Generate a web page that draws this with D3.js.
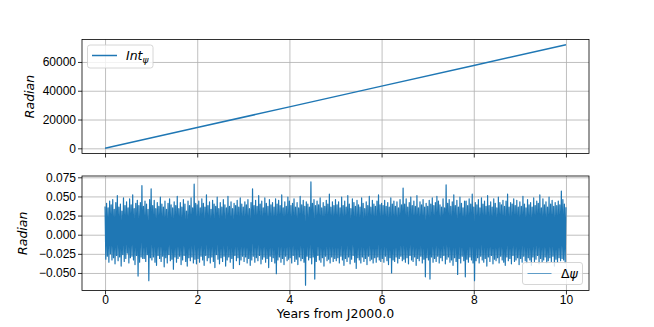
<!DOCTYPE html>
<html lang="en">
<head>
<meta charset="UTF-8">
<title>Nutation in longitude</title>
<style type="text/css">
    body { margin: 0; background: #fff; }
    svg { font-family: "DejaVu Sans", sans-serif; }

    /* grid under the data, like matplotlib */
    .grid line { stroke: #b0b0b0; stroke-width: 0.8; }
    .grid .domain { display: none; }

    .axis text { font-size: 12px; fill: #000; }
    .axis line { stroke: #000; stroke-width: 0.8; }
    .axis .domain { display: none; }

    .frame { fill: none; stroke: #000; stroke-width: 0.8; }

    .line { fill: none; stroke: #1f77b4; stroke-linejoin: round; }
    .line.int { stroke-width: 1.5; }
    .line.dpsi { stroke-width: 1.2; }

    .legend rect { fill: #fff; fill-opacity: 0.8; stroke: #cccccc; stroke-width: 0.8; }
    .legend text { font-size: 12.5px; fill: #000; }
    .label { font-size: 12.5px; fill: #000; }
</style>
</head>
<body>
<script src="https://d3js.org/d3.v7.min.js"></script>
<script>

    // top panel: accumulated nutation in longitude (rad)
    var intYears = [0, 2, 4, 6, 8, 10];
    var intPsi = [0, 14400, 28800, 43200, 57600, 72000];

    // bottom panel: nutation in longitude, milliradians, 60 samples per year
    var dPsiMilli = [
        37,-32,41,-28,35,-36,44,-25,39,-33, 46,-30,33,-38,42,-27,51,-34,36,-29,
        40,-41,31,-26,48,-35,38,-31,43,-24, 35,-37,47,-30,39,-28,52,-33,34,-39,
        41,-27,45,-54,38,-36,42,-29,64,-31, 37,-31,44,-35,40,-26,33,-60,46,-30,

        60,-33,38,-29,45,-36,34,-40,42,-27, 37,-31,49,-35,40,-28,36,-42,44,-30,
        33,-37,41,-26,47,-34,39,-32,35,-45, 43,-29,38,-36,50,-31,34,-28,42,-39,
        36,-33,46,-27,40,-35,31,-41,44,-30, 38,-34,48,-29,35,-37,66,-32,41,-38,

        39,-31,44,-36,35,-28,47,-33,41,-40, 36,-27,52,-34,38,-30,43,-37,33,-29,
        45,-35,40,-43,37,-26,49,-32,34,-38, 42,-30,36,-35,46,-28,39,-41,35,-33,
        50,-29,37,-36,43,-31,34,-44,41,-27, 38,-34,45,-30,36,-39,48,-33,40,-28,

        36,-35,43,-29,39,-37,46,-31,34,-40, 42,-33,60,-28,38,-36,45,-30,37,-34,
        51,-27,40,-38,44,-32,35,-29,48,-36, 41,-31,37,-43,46,-28,39,-35,42,-30,
        36,-37,47,-51,40,-33,45,-29,38,-36, 52,-31,35,-39,43,-28,37,-34,49,-32,

        44,-30,38,-37,41,-27,47,-35,36,-32, 42,-39,35,-29,50,-34,39,-31,45,-36,
        37,-66,43,-28,40,-33,36,-30,69,-38, 41,-29,46,-58,38,-35,44,-27,39,-33,
        48,-36,35,-30,42,-41,37,-28,45,-34, 40,-32,53,-37,36,-29,43,-35,38,-31,

        46,-34,39,-30,43,-37,35,-28,49,-33, 38,-40,44,-31,36,-35,51,-29,40,-38,
        34,-32,47,-27,42,-36,37,-44,45,-30, 39,-33,36,-37,48,-29,41,-35,34,-31,
        43,-39,38,-28,50,-34,36,-32,45,-37, 40,-30,37,-36,44,-29,52,-33,39,-35,

        41,-31,38,-36,45,-28,37,-34,42,-39, 36,-30,48,-50,40,-33,44,-35,37,-29,
        43,-37,35,-31,46,-28,39,-34,61,-32, 40,-36,47,-30,36,-38,42,-27,49,-33,
        38,-35,44,-29,37,-40,51,-31,35,-34, 43,-28,39,-37,46,-32,36,-55,41,-30,

        37,-33,45,-58,40,-29,48,-36,38,-31, 42,-35,50,-28,44,-37,39,-30,36,-34,
        47,-27,35,-38,65,-32,41,-29,46,-36, 37,-33,43,-40,52,-30,38,-35,45,-52,
        36,-31,49,-37,41,-28,35,-34,44,-55, 44,-32,38,-36,47,-29,40,-33,53,-37,

        36,-60,42,-34,39,-30,46,-37,35,-28, 48,-33,40,-36,44,-31,37,-41,51,-29,
        38,-35,43,-27,36,-38,47,-32,41,-34, 35,-30,49,-37,42,-28,39,-33,45,-36,
        37,-40,44,-29,53,-34,36,-31,42,-38, 40,-27,47,-35,38,-33,45,-30,36,-39,

        43,-31,37,-36,50,-28,40,-34,35,-37, 46,-30,39,-33,42,-40,36,-29,48,-35,
        38,-32,44,-27,41,-38,52,-31,35,-36, 47,-33,39,-29,43,-37,36,-34,49,-30,
        40,-35,45,-28,37,-41,42,-32,38,-36, 44,-30,39,-34,57,-31,46,-33,40,-37,
        36
    ];

    var xTicks = [0, 2, 4, 6, 8, 10];
    var intTicks = [0, 20000, 40000, 60000];
    var dPsiTicks = [-0.05, -0.025, 0, 0.025, 0.05, 0.075];

    var width = 654, height = 327;
    var left = 82, right = 589;
    var panels = {
        top: {y0: 39.5, y1: 153.5},
        bottom: {y0: 176, y1: 290.5}
    };

    var svg = d3.select("body").append("svg")
        .attr("width", width)
        .attr("height", height);

    svg.append("rect").attr("width", width).attr("height", height).attr("fill", "#fff");

    var x = d3.scaleLinear()
        .domain([-0.5, 10.5])
        .range([left, right]);

    var yTop = d3.scaleLinear()
        .domain([-3600, 75600])
        .range([panels.top.y1, panels.top.y0]);

    var yBot = d3.scaleLinear()
        .domain([-0.0729, 0.0767])
        .range([panels.bottom.y1, panels.bottom.y0]);

    function drawGrid(y, ticks, p) {
        svg.append("g")
            .attr("class", "grid")
            .attr("transform", "translate(0," + p.y1 + ")")
            .call(d3.axisBottom(x).tickValues(xTicks).tickSize(-(p.y1 - p.y0)).tickFormat(""));
        svg.append("g")
            .attr("class", "grid")
            .attr("transform", "translate(" + left + ",0)")
            .call(d3.axisLeft(y).tickValues(ticks).tickSize(-(right - left)).tickFormat(""));
    }

    function drawAxes(y, ticks, fmt, p, xLabels) {
        svg.append("g")
            .attr("class", "axis")
            .attr("transform", "translate(" + left + ",0)")
            .call(d3.axisLeft(y).tickValues(ticks).tickSize(4).tickPadding(2).tickFormat(fmt));
        var xa = d3.axisBottom(x).tickValues(xTicks).tickSize(4).tickPadding(0.5);
        if (!xLabels) xa.tickFormat("");
        svg.append("g")
            .attr("class", "axis")
            .attr("transform", "translate(0," + p.y1 + ")")
            .call(xa);
        svg.append("rect")
            .attr("class", "frame")
            .attr("x", left)
            .attr("y", p.y0)
            .attr("width", right - left)
            .attr("height", p.y1 - p.y0);
    }

    // top panel
    drawGrid(yTop, intTicks, panels.top);

    var intLine = d3.line()
        .x(function(d, i) { return x(intYears[i]); })
        .y(function(d) { return yTop(d); });

    svg.append("path")
        .datum(intPsi)
        .attr("class", "line int")
        .attr("d", intLine);

    drawAxes(yTop, intTicks, d3.format("d"), panels.top, false);

    // bottom panel
    drawGrid(yBot, dPsiTicks, panels.bottom);

    var step = 10 / (dPsiMilli.length - 1);
    var dPsiLine = d3.line()
        .x(function(d, i) { return x(i * step); })
        .y(function(d) { return yBot(d / 1000); });

    svg.append("path")
        .datum(dPsiMilli)
        .attr("class", "line dpsi")
        .attr("d", dPsiLine);

    drawAxes(yBot, dPsiTicks, d3.format(".3f"), panels.bottom, true);

    // axis labels
    svg.append("text")
        .attr("class", "label")
        .attr("transform", "translate(33.5," + (panels.top.y0 + panels.top.y1) / 2 + ") rotate(-90)")
        .attr("text-anchor", "middle")
        .style("font-style", "italic")
        .text("Radian");

    svg.append("text")
        .attr("class", "label")
        .attr("transform", "translate(27," + (panels.bottom.y0 + panels.bottom.y1) / 2 + ") rotate(-90)")
        .attr("text-anchor", "middle")
        .style("font-style", "italic")
        .text("Radian");

    svg.append("text")
        .attr("class", "label")
        .attr("x", (left + right) / 2)
        .attr("y", 318)
        .attr("text-anchor", "middle")
        .text("Years from J2000.0");

    // legends
    var lg1 = svg.append("g").attr("class", "legend");
    lg1.append("rect").attr("x", 87.5).attr("y", 45).attr("width", 65.5).attr("height", 23).attr("rx", 2.5);
    lg1.append("line").attr("x1", 92).attr("x2", 117).attr("y1", 55.5).attr("y2", 55.5)
        .attr("stroke", "#1f77b4").attr("stroke-width", 1.5);
    var t1 = lg1.append("text").attr("x", 126).attr("y", 60).style("font-style", "italic");
    t1.append("tspan").text("Int");
    t1.append("tspan").attr("dy", 3).style("font-size", "9px").text("ψ");

    var lg2 = svg.append("g").attr("class", "legend");
    lg2.append("rect").attr("x", 522.5).attr("y", 262.5).attr("width", 60).attr("height", 22).attr("rx", 2.5);
    lg2.append("line").attr("x1", 527.5).attr("x2", 551.5).attr("y1", 273.5).attr("y2", 273.5)
        .attr("stroke", "#1f77b4").attr("stroke-width", 0.7);
    var t2 = lg2.append("text").attr("x", 561).attr("y", 278);
    t2.append("tspan").text("Δ");
    t2.append("tspan").style("font-style", "italic").text("ψ");

</script>
</body>
</html>
